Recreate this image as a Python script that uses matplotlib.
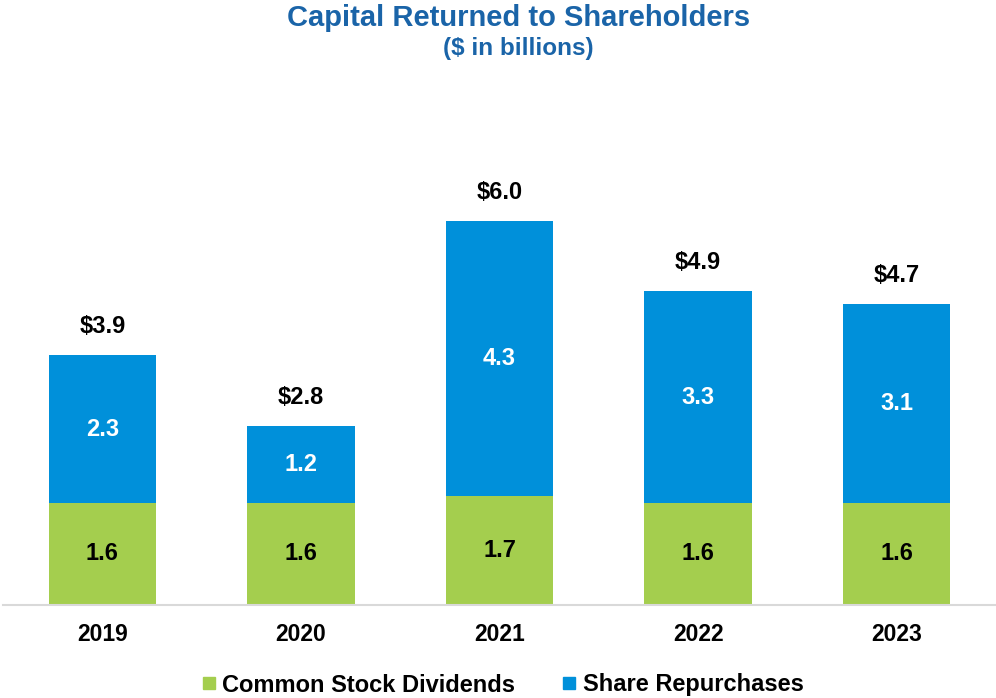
import matplotlib
matplotlib.use("Agg")
import matplotlib.pyplot as plt
from matplotlib.lines import Line2D


years = ["2019", "2020", "2021", "2022", "2023"]
dividends = [1.6, 1.6, 1.7, 1.6, 1.6]
repurchases = [2.3, 1.2, 4.3, 3.3, 3.1]
totals = [3.9, 2.8, 6.0, 4.9, 4.7]

GREEN = "#A4CE4E"
BLUE = "#0090DA"
TITLE_BLUE = "#1A64A8"


def plot_output():
    plt.rcParams["font.family"] = ["Liberation Sans", "DejaVu Sans"]
    fig = plt.figure(figsize=(9.96, 6.98), dpi=100)
    ax = fig.add_axes([3 / 996, 93 / 698, 993 / 996, 505 / 698])

    x = list(range(len(years)))
    ax.bar(x, dividends, width=0.54, color=GREEN)
    ax.bar(x, repurchases, width=0.54, bottom=dividends, color=BLUE)

    for i in x:
        ax.text(i, dividends[i] / 2, f"{dividends[i]:.1f}", ha="center",
                va="center", fontsize=17, fontweight="bold", color="black")
        ax.text(i, dividends[i] + repurchases[i] / 2, f"{repurchases[i]:.1f}",
                ha="center", va="center", fontsize=17, fontweight="bold",
                color="white")
        ax.text(i, dividends[i] + repurchases[i] + 0.27, f"${totals[i]:.1f}",
                ha="center", va="bottom", fontsize=17, fontweight="bold",
                color="black")

    ax.set_xlim(-0.5, 4.5)
    ax.set_ylim(0, 505 / 64)
    ax.set_xticks(x)
    ax.set_xticklabels(years, fontsize=16.5, fontweight="bold")
    ax.tick_params(axis="x", length=0, pad=13)
    ax.set_yticks([])
    for side in ["top", "left", "right"]:
        ax.spines[side].set_visible(False)
    ax.spines["bottom"].set_color("#D9D9D9")
    ax.spines["bottom"].set_linewidth(1.5)

    fig.text(519 / 996, 1 - 18 / 698, "Capital Returned to Shareholders",
             ha="center", va="center", fontsize=21, fontweight="bold",
             color=TITLE_BLUE)
    fig.text(518 / 996, 1 - 49 / 698, "($ in billions)",
             ha="center", va="center", fontsize=17.5, fontweight="bold",
             color=TITLE_BLUE)

    handles = [
        Line2D([], [], marker="s", linestyle="none", markersize=9,
               color=GREEN, label="Common Stock Dividends"),
        Line2D([], [], marker="s", linestyle="none", markersize=9,
               color=BLUE, label="Share Repurchases"),
    ]
    fig.legend(handles=handles, loc="center", bbox_to_anchor=(503 / 996, 1 - 685 / 698),
               ncol=2, frameon=False, prop={"size": 17, "weight": "bold"},
               handlelength=0.55, handletextpad=0.3, columnspacing=2.0,
               borderpad=0, borderaxespad=0)

    fig.savefig("out.png", dpi=100)


def main():
    plot_output()


if __name__ == "__main__":
    main()
